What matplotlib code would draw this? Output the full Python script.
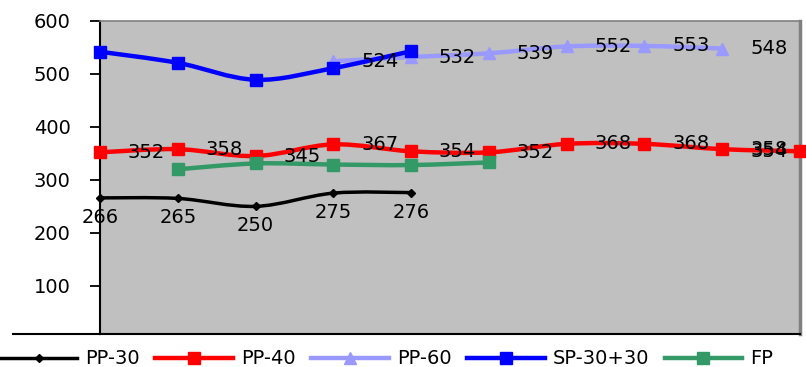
import numpy as np
import matplotlib
matplotlib.use("Agg")
import matplotlib.pyplot as plt
from matplotlib.path import Path
from matplotlib.patches import PathPatch
from matplotlib.lines import Line2D

# series values, indexed by category position
pp30_x = [0, 1, 2, 3, 4]
pp30 = [266, 265, 250, 275, 276]

pp40_x = [0, 1, 2, 3, 4, 5, 6, 7, 8, 9]
pp40 = [352, 358, 345, 367, 354, 352, 368, 368, 358, 354]

pp60_x = [3, 4, 5, 6, 7, 8]
pp60 = [524, 532, 539, 552, 553, 548]

sp_x = [0, 1, 2, 3, 4]
sp3030 = [542, 521, 489, 511, 543]

fp_x = [1, 2, 3, 4, 5]
fp = [320, 331, 329, 328, 333]

yticks = [100, 200, 300, 400, 500, 600]


def smooth_path(xs, ys):
    # catmull-rom through the points, as bezier segments
    p = np.column_stack([xs, ys]).astype(float)
    n = len(p)
    verts = [p[0]]
    codes = [Path.MOVETO]
    for i in range(n - 1):
        p0 = p[max(i - 1, 0)]
        p1 = p[i]
        p2 = p[i + 1]
        p3 = p[min(i + 2, n - 1)]
        c1 = p1 + (p2 - p0) / 6.0
        c2 = p2 - (p3 - p1) / 6.0
        verts += [c1, c2, p2]
        codes += [Path.CURVE4] * 3
    return Path(verts, codes)


fig = plt.figure(figsize=(8.06, 3.67), dpi=100)
ax = fig.add_axes([100 / 806, 33 / 367, 700 / 806, 313 / 367])
ax.set_facecolor("#c0c0c0")
ax.set_xlim(0, 9)
ax.set_ylim(9, 600)

series = [
    ("PP-30", pp30_x, pp30, "black", "D", 4.5, 2.5),
    ("PP-40", pp40_x, pp40, "#ff0000", "s", 8, 3.2),
    ("PP-60", pp60_x, pp60, "#9999ff", "^", 9, 3.2),
    ("SP-30+30", sp_x, sp3030, "#0000ff", "s", 8, 3.2),
    ("FP", fp_x, fp, "#339966", "s", 8, 3.2),
]

handles = []
for name, xs, ys, col, mk, ms, lw in series:
    ax.add_patch(PathPatch(smooth_path(xs, ys), fill=False, edgecolor=col,
                           lw=lw, clip_on=False, zorder=3))
    ax.plot(xs, ys, ls="none", marker=mk, ms=ms, color=col,
            clip_on=False, zorder=4)
    handles.append(Line2D([], [], color=col, lw=lw, marker=mk, ms=ms))

lbl = dict(fontsize=14, color="black", zorder=5)

# PP-30 values under the points
for x, v in zip(pp30_x, pp30):
    ax.annotate(str(v), (x, v), xytext=(0, -14), textcoords="offset points",
                ha="center", va="center", **lbl)

# PP-40 and PP-60 values to the right, kept inside the plot
for xs, ys in [(pp40_x, pp40), (pp60_x, pp60)]:
    for x, v in zip(xs, ys):
        ax.annotate(str(v), (min(x, 8), v), xytext=(20, 0),
                    textcoords="offset points", ha="left", va="center", **lbl)

ax.set_yticks(yticks)
ax.set_xticks([])
ax.tick_params(axis="y", direction="out", length=7, width=1.3, pad=14,
               labelsize=14)

for s in ["left", "bottom"]:
    ax.spines[s].set_color("black")
    ax.spines[s].set_linewidth(1.5)
ax.spines["top"].set_color("#808080")
ax.spines["top"].set_linewidth(1.2)
ax.spines["right"].set_color("#808080")
ax.spines["right"].set_linewidth(2.5)

# baseline carried out to the left under the tick labels
fig.add_artist(Line2D([13 / 806, 100 / 806], [33 / 367, 33 / 367],
                      color="black", lw=1.5))

fig.legend(handles, [s[0] for s in series], loc="center left",
           bbox_to_anchor=(-0.01, 8 / 367), ncol=5, frameon=False,
           fontsize=14, handlelength=4.0, handletextpad=0.4,
           columnspacing=0.8, borderaxespad=0)

fig.savefig("out.png", dpi=100)
